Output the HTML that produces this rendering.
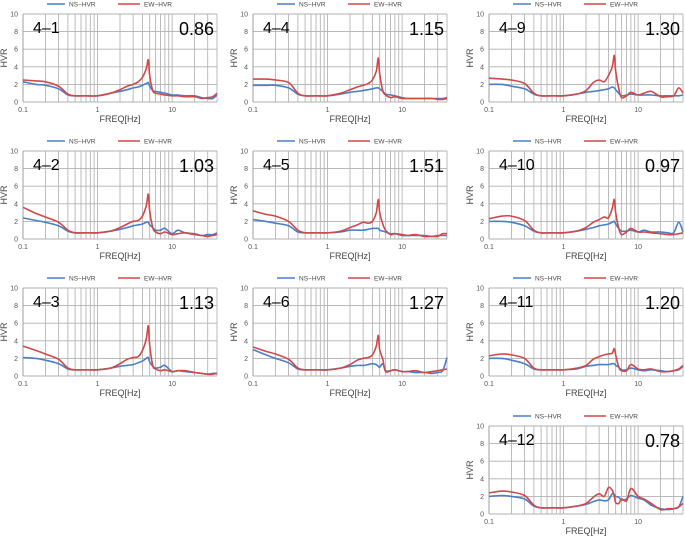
<!DOCTYPE html>
<html><head><meta charset="utf-8"><style>
html,body{margin:0;padding:0;background:#fff;width:685px;height:538px;overflow:hidden}
svg{display:block;font-family:"Liberation Sans",sans-serif}
</style></head><body>
<svg id="chart" width="685" height="538" viewBox="0 0 685 538" xmlns="http://www.w3.org/2000/svg"></svg>
<script>
const freqs=[0.1,0.15,0.2,0.3,0.4,0.5,0.7,1,1.5,2,2.5,3,3.5,4,4.5,4.8,5,5.5,6,7,8,10,12,15,20,25,30,35,40];
const panelNames=["4-1","4-4","4-9","4-2","4-5","4-10","4-3","4-6","4-11","4-12"];
const panelValues=["0.86","1.15","1.30","1.03","1.51","0.97","1.13","1.27","1.20","0.78"];
const yTicks=[0,2,4,6,8,10];
const xTickLabels=["0.1","1","10"];
const xTickValues=[0.1,1,10];
const ns41=[2.3,2.0,1.9,1.5,0.8,0.7,0.7,0.7,1.0,1.2,1.4,1.6,1.7,1.9,2.1,2.2,1.8,1.3,1.2,1.1,1.0,0.8,0.8,0.7,0.7,0.5,0.4,0.4,0.8];
const ew41=[2.5,2.4,2.3,1.8,0.9,0.7,0.7,0.7,1.0,1.4,1.8,2.0,2.3,2.8,3.8,4.8,3.0,1.3,1.0,0.9,0.8,0.7,0.7,0.6,0.6,0.4,0.5,0.6,1.0];
const ns44=[1.9,1.9,1.9,1.6,0.9,0.7,0.7,0.7,0.9,1.1,1.2,1.3,1.4,1.5,1.6,1.6,1.5,1.2,0.9,0.8,0.7,0.5,0.4,0.4,0.4,0.4,0.4,0.4,0.5];
const ew44=[2.6,2.6,2.5,2.2,1.0,0.7,0.7,0.7,1.0,1.4,1.7,1.9,2.1,2.5,3.5,5.0,3.2,1.3,0.8,0.5,0.6,0.4,0.4,0.4,0.4,0.4,0.3,0.3,0.4];
const ns49=[2.0,2.0,1.8,1.5,0.9,0.7,0.7,0.7,0.9,1.1,1.2,1.3,1.4,1.5,1.7,1.6,1.4,1.0,0.7,0.8,0.9,0.8,0.8,0.8,0.7,0.7,0.7,0.7,0.8];
const ew49=[2.7,2.6,2.5,2.1,1.0,0.7,0.7,0.7,0.9,1.3,2.2,2.5,2.3,3.0,4.0,5.3,3.5,1.5,0.5,0.7,1.1,0.8,1.0,1.2,0.6,0.6,0.7,1.6,1.0];
const ns42=[2.4,2.1,1.9,1.5,0.9,0.7,0.7,0.7,0.9,1.1,1.3,1.5,1.6,1.7,1.9,1.9,1.6,1.3,1.0,1.0,1.2,0.6,1.0,0.7,0.6,0.4,0.5,0.5,0.7];
const ew42=[3.6,2.9,2.5,1.9,1.0,0.7,0.7,0.7,0.9,1.3,1.7,2.0,2.1,2.6,3.8,5.1,3.2,1.3,0.8,0.6,0.8,0.5,0.6,0.7,0.5,0.4,0.3,0.4,0.5];
const ns45=[2.2,2.0,1.8,1.5,0.8,0.7,0.7,0.7,0.8,1.0,1.0,1.0,1.1,1.2,1.2,1.2,1.0,0.9,0.8,0.6,0.6,0.4,0.4,0.4,0.4,0.3,0.4,0.4,0.4];
const ew45=[3.2,2.8,2.6,2.0,1.0,0.7,0.7,0.7,0.9,1.3,1.6,1.9,1.8,2.0,3.0,4.5,3.0,1.7,1.0,0.5,0.6,0.5,0.4,0.5,0.3,0.3,0.3,0.6,0.6];
const ns410=[2.0,2.0,1.9,1.5,0.9,0.7,0.7,0.7,0.9,1.1,1.3,1.5,1.6,1.7,1.9,2.0,1.7,1.2,0.9,0.9,1.0,0.8,1.0,0.8,0.8,0.7,0.7,1.9,0.8];
const ew410=[2.3,2.6,2.6,2.1,1.0,0.7,0.7,0.7,0.9,1.3,1.9,2.2,2.5,2.4,3.5,4.5,3.0,1.2,0.5,0.8,1.2,0.8,0.8,0.7,0.6,0.5,0.5,0.6,0.7];
const ns43=[2.1,2.0,1.8,1.4,0.8,0.7,0.7,0.7,0.9,1.1,1.2,1.3,1.5,1.7,2.0,2.1,1.6,1.1,0.9,1.0,1.2,0.5,0.6,0.5,0.4,0.3,0.2,0.3,0.3];
const ew43=[3.4,2.9,2.5,1.9,0.9,0.7,0.7,0.7,0.9,1.4,1.9,2.1,2.2,2.9,4.2,5.7,3.5,1.2,0.8,0.6,0.7,0.5,0.6,0.6,0.4,0.3,0.2,0.2,0.3];
const ns46=[3.0,2.4,2.0,1.5,0.8,0.7,0.7,0.7,0.9,1.1,1.2,1.2,1.3,1.4,1.3,1.1,1.0,1.4,0.6,0.6,0.7,0.5,0.5,0.4,0.4,0.3,0.4,0.6,2.1];
const ew46=[3.3,2.8,2.5,1.9,0.9,0.7,0.7,0.7,0.9,1.3,1.8,2.0,2.1,2.4,3.4,4.6,3.0,1.9,0.5,0.6,0.7,0.5,0.5,0.6,0.4,0.5,0.6,0.7,0.8];
const ns411=[2.0,2.0,1.8,1.4,0.8,0.7,0.7,0.7,0.8,1.1,1.2,1.3,1.3,1.3,1.4,1.4,1.2,1.0,0.7,0.7,0.9,0.7,0.6,0.7,0.6,0.5,0.6,0.7,1.1];
const ew411=[2.3,2.5,2.4,2.0,0.9,0.7,0.7,0.7,0.9,1.2,1.9,2.2,2.4,2.5,2.6,3.1,2.4,1.0,0.6,0.6,1.3,0.8,0.7,0.8,0.5,0.5,0.6,0.8,1.2];
const ns412=[2.0,2.1,2.0,1.7,0.9,0.7,0.7,0.7,0.9,1.1,1.4,1.6,1.5,1.6,2.3,2.2,2.0,1.9,1.6,1.7,2.1,1.8,1.6,1.0,0.6,0.5,0.6,0.8,2.0];
const ew412=[2.4,2.6,2.5,2.1,1.0,0.7,0.7,0.7,0.9,1.2,1.9,2.3,2.0,3.0,2.7,2.0,1.3,1.2,1.7,1.5,2.9,2.0,1.7,1.2,0.5,0.6,0.6,0.8,1.2];
const nsSeries=[ns41,ns44,ns49,ns42,ns45,ns410,ns43,ns46,ns411,ns412];
const ewSeries=[ew41,ew44,ew49,ew42,ew45,ew410,ew43,ew46,ew411,ew412];

const svg=document.getElementById('chart');
const NS="http://www.w3.org/2000/svg";
const colX=[23,253,489], rowY=[14,151,288,426];
const slots=[[0,0],[1,0],[2,0],[0,1],[1,1],[2,1],[0,2],[1,2],[2,2],[2,3]];
const W=194,H=88,FMIN=0.1,FMAX=40;
function mk(tag,attrs,parent){const e=document.createElementNS(NS,tag);for(const k in attrs)e.setAttribute(k,attrs[k]);parent.appendChild(e);return e;}
function smooth(pts){
  let d='M'+pts[0][0].toFixed(1)+','+pts[0][1].toFixed(1);
  for(let i=0;i<pts.length-1;i++){
    const p0=pts[Math.max(0,i-1)],p1=pts[i],p2=pts[i+1],p3=pts[Math.min(pts.length-1,i+2)];
    const c1x=p1[0]+(p2[0]-p0[0])/6,c1y=p1[1]+(p2[1]-p0[1])/6;
    const c2x=p2[0]-(p3[0]-p1[0])/6,c2y=p2[1]-(p3[1]-p1[1])/6;
    d+='C'+c1x.toFixed(1)+','+c1y.toFixed(1)+' '+c2x.toFixed(1)+','+c2y.toFixed(1)+' '+p2[0].toFixed(1)+','+p2[1].toFixed(1);
  }
  return d;
}
slots.forEach((s,i)=>{
  const L=colX[s[0]],T=rowY[s[1]];
  const xs=f=>L+(Math.log10(f)-Math.log10(FMIN))/(Math.log10(FMAX)-Math.log10(FMIN))*W;
  const ys=v=>T+H-v/10*H;
  const g=mk('g',{},svg);
  
  
  yTicks.forEach(t=>{
    const l=mk('line',{x1:L,x2:L+W,y1:ys(t),y2:ys(t),stroke:'#b0b0b0','stroke-width':0.9},g);
    
    
    const tx=mk('text',{x:L-5,y:ys(t)+2.5,'font-size':7,fill:'#555','text-anchor':'end'},g);
    tx.textContent=t;
    
    
  });
  [0.1,1,10].forEach(d=>{for(let k=1;k<10;k++){const f=d*k;if(f>FMAX)break;
    const l=mk('line',{x1:xs(f),x2:xs(f),y1:T,y2:T+H,stroke:'#b4b4b4','stroke-width':0.9},g);
    
    }});
  mk('line',{x1:L,x2:L,y1:T,y2:T+H,stroke:'#999','stroke-width':0.8},g);
  xTickValues.forEach((v,j)=>{
    const tx=mk('text',{x:xs(v),y:T+H+10,'font-size':7,fill:'#555','text-anchor':'middle'},g);
    tx.textContent=xTickLabels[j];
    
    
  });
  const xt=mk('text',{x:L+W/2,y:T+H+20,'font-size':9,fill:'#444','text-anchor':'middle'},g);
  xt.textContent='FREQ[Hz]';
  
  
  const yt=mk('text',{x:0,y:0,'font-size':9,fill:'#444','text-anchor':'middle',transform:`translate(${L-16},${T+H/2}) rotate(-90)`},g);
  yt.textContent='HVR';
  
  
  const lg=mk('g',{},g);
  
  
  mk('line',{x1:L+24,x2:L+42,y1:T-10,y2:T-10,stroke:'#4a7ec8','stroke-width':1.5},lg);
  const t1=mk('text',{x:L+46,y:T-7.5,'font-size':6.5,fill:'#444'},lg);t1.textContent='NS−HVR';
  
  
  mk('line',{x1:L+95,x2:L+117,y1:T-10,y2:T-10,stroke:'#d04848','stroke-width':1.5},lg);
  const t2=mk('text',{x:L+121,y:T-7.5,'font-size':6.5,fill:'#444'},lg);t2.textContent='EW−HVR';
  
  
  const p=a=>smooth(a.map((v,j)=>[xs(freqs[j]),ys(v)]));
  const pn=mk('path',{d:p(nsSeries[i]),fill:'none',stroke:'#4a7ec8','stroke-width':1.6,'stroke-linejoin':'round'},g);
  
  
  const pe=mk('path',{d:p(ewSeries[i]),fill:'none',stroke:'#d04848','stroke-width':1.6,'stroke-linejoin':'round'},g);
  
  
  const nm=mk('text',{x:L+10,y:T+19,'font-size':16,fill:'#000'},g);
  nm.textContent=panelNames[i].replace('-','–');
  
  
  const vl=mk('text',{x:L+W-3,y:T+21,'font-size':18,fill:'#000','text-anchor':'end'},g);
  vl.textContent=panelValues[i];
  
  
});
</script>
</body></html>
